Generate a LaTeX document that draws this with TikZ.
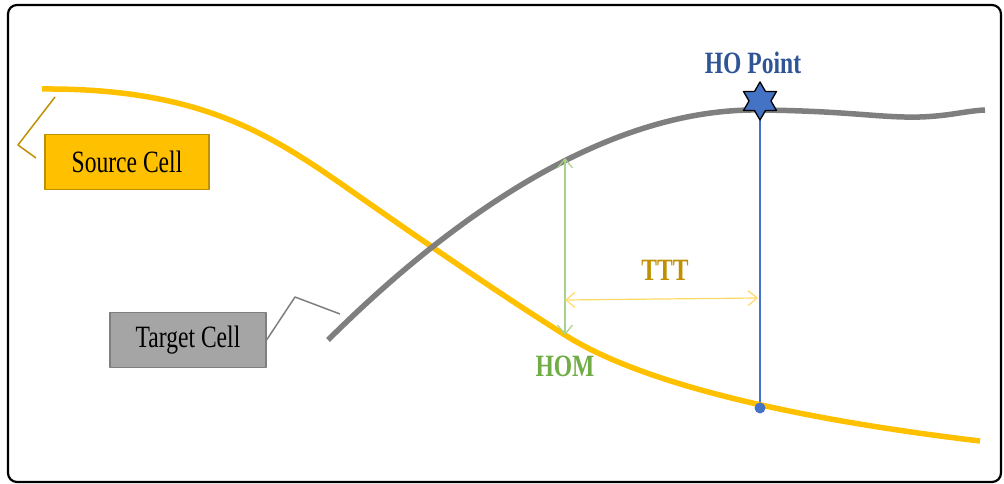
\documentclass[tikz,border=0pt]{standalone}
\usepackage{fontspec}
\setmainfont{Liberation Serif}[FakeStretch=0.76]
\usetikzlibrary{arrows.meta,shapes.geometric}
\definecolor{srcfill}{HTML}{FFC000}
\definecolor{srcline}{HTML}{BF9000}
\definecolor{tgtfill}{HTML}{A5A5A5}
\definecolor{tgtline}{HTML}{7F7F7F}
\definecolor{homgreen}{HTML}{A9D18E}
\definecolor{homtext}{HTML}{70AD47}
\definecolor{tttline}{HTML}{FFD966}
\definecolor{hoblue}{HTML}{4472C4}
\definecolor{hotext}{HTML}{2F5597}
\begin{document}
\begin{tikzpicture}[>={Straight Barb[length=9bp,width=15bp]},line join=round,
  font=\fontsize{31bp}{35bp}\selectfont,
  cellbox/.style={rectangle,line width=1.2bp,minimum height=55bp,inner sep=0pt},
  bigbold/.style={font=\fontsize{31bp}{35bp}\selectfont\bfseries}]
\useasboundingbox (0bp,0bp) rectangle (1004bp,484bp);
%%
\draw [black,line width=2.2bp,rounded corners=9bp] (8bp,2bp) rectangle (1001bp,479bp);
\draw [srcfill,line width=5.5bp] (42bp,395bp) .. controls (200bp,396bp) and (270bp,350bp) .. (350bp,294bp)
  .. controls (430bp,238bp) and (500bp,190bp) .. (565bp,149bp)
  .. controls (650bp,95bp) and (820bp,62bp) .. (980bp,43bp);
\draw [tgtline,line width=5.5bp] (328bp,144bp) .. controls (470bp,285bp) and (620bp,376bp) .. (760bp,374bp)
  .. controls (850bp,373bp) and (880bp,366bp) .. (920bp,367bp)
  .. controls (950bp,368bp) and (965bp,373bp) .. (985bp,374bp);
  \node (src) at (127bp,322bp) [cellbox,draw=srcline,fill=srcfill,minimum width=164bp] {Source Cell};
  \node (tgt) at (188bp,144bp) [cellbox,draw=tgtline,fill=tgtfill,minimum width=156bp] {Target Cell};
  \coordinate (src_a) at (55bp,387bp);
  \coordinate (src_b) at (18bp,339bp);
  \coordinate (src_c) at (36bp,326bp);
  \coordinate (tgt_b) at (295bp,187bp);
  \coordinate (tgt_c) at (340bp,170bp);
  \coordinate (hom_top) at (565bp,326bp);
  \coordinate (hom_low) at (565bp,149bp);
  \coordinate (ttt_l) at (565bp,184bp);
  \coordinate (ttt_r) at (758bp,186bp);
  \coordinate (ho_pt) at (760bp,383bp);
  \node (hom) at (565bp,118bp) [homtext,bigbold] {HOM};
  \node (ttt) at (665bp,214bp) [srcline,bigbold] {TTT};
  \node (ho_dot) at (760bp,76bp) [circle,fill=hoblue,inner sep=0pt,minimum size=11bp] {};
  \node (ho_text) at (753bp,421bp) [hotext,bigbold] {HO Point};
  \draw [srcline,line width=1.5bp] (src_a) -- (src_b) -- (src_c);
  \draw [tgtline,line width=1.5bp] (tgt.east) -- (tgt_b) -- (tgt_c);
  \draw [<->,homgreen,line width=1.2bp] (hom_top) -- (hom_low);
  \draw [<->,tttline,line width=1.2bp] (ttt_l) -- (ttt_r);
  \draw [hoblue,line width=1.5bp] (ho_pt) -- (ho_dot);
  \node (ho_star) at (ho_pt) [star,star points=6,star point ratio=1.73,minimum size=38bp,inner sep=0pt,draw=black,line width=1.3bp,fill=hoblue] {};
%
\end{tikzpicture}
\end{document}
